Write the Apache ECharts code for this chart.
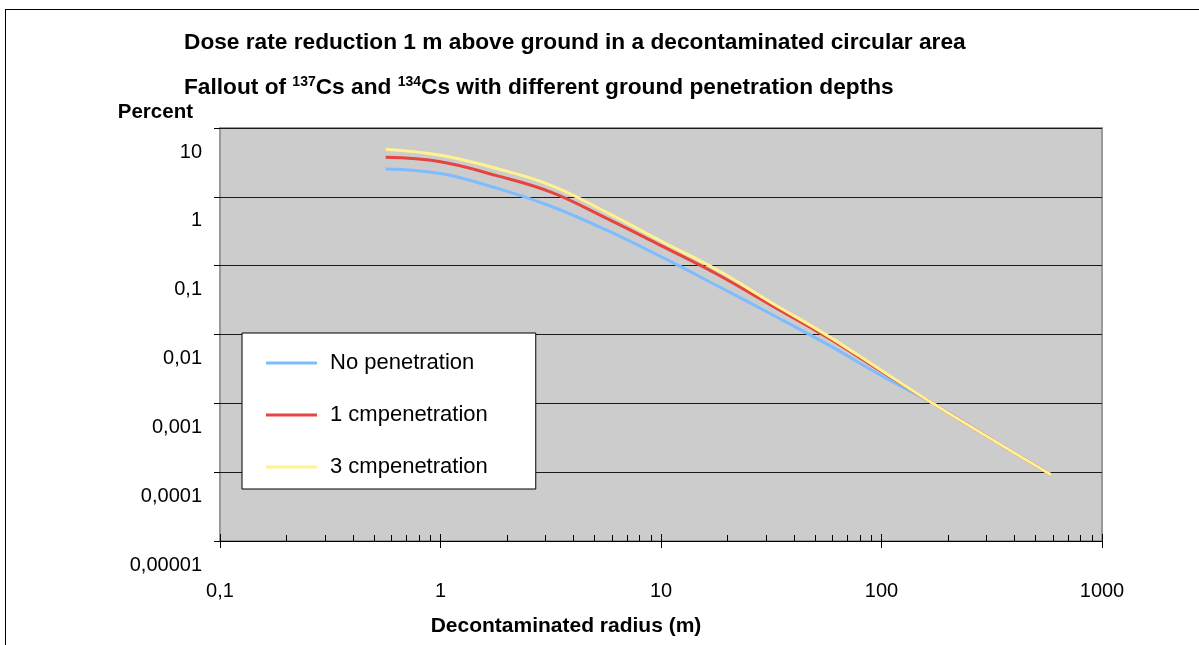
<!DOCTYPE html>
<html>
<head>
<meta charset="utf-8">
<script src="https://cdn.jsdelivr.net/npm/echarts@6/dist/echarts.min.js"></script>
<style>
    html, body { margin: 0; padding: 0; background: #fff; }
    #frame { position: absolute; left: 5px; top: 9px; width: 1300px; height: 800px; border: 1px solid #000; }
    #main { position: absolute; left: 0; top: 0; width: 1199px; height: 645px; }
</style>
</head>
<body>
<div id="frame"></div>
<div id="main"></div>
<script>
// radius of decontaminated circle (m)
var radius = [0.564, 1, 1.78, 3.17, 5.64, 10, 17.8, 31.7, 56.4, 100, 178, 316, 590];
// dose rate reduction (percent)
var noPen  = [2.54, 2.18, 1.35, 0.73, 0.33, 0.135, 0.052, 0.0197, 0.0073, 0.00253, 0.00093, 0.0003, 0.000091];
var pen1cm = [3.75, 3.24, 2.05, 1.17, 0.49, 0.196, 0.0764, 0.0264, 0.0092, 0.0029, 0.00092, 0.0003, 0.000091];
var pen3cm = [4.9, 4.01, 2.6, 1.47, 0.60, 0.228, 0.0886, 0.029, 0.0098, 0.0030, 0.00092, 0.0003, 0.000091];

var seriesNames = ['No penetration', '1 cmpenetration', '3 cmpenetration'];
var xTickLabels = ['0,1', '1', '10', '100', '1000'];
var yTickLabels = ['0,00001', '0,0001', '0,001', '0,01', '0,1', '1', '10'];

// minor ticks 2..9 of every decade on the x axis
var xMinorTicks = [];
[0.1, 1, 10, 100].forEach(function (d) {
    for (var k = 2; k <= 9; k++) xMinorTicks.push(+(d * k).toPrecision(3));
});

function pairs(ys) {
    return radius.map(function (r, i) { return [r, ys[i]]; });
}

var FONT = 'Liberation Sans, Arial, sans-serif';

var chart = echarts.init(document.getElementById('main'));
var option = {
    animation: false,
    textStyle: { fontFamily: FONT },
    title: [
        {
            text: 'Dose rate reduction 1 m above ground in a decontaminated circular area',
            left: 184, top: 30, padding: 0,
            textStyle: { fontSize: 22.7, fontWeight: 'bold', color: '#000', lineHeight: 25, fontFamily: FONT }
        },
        {
            text: '{t|Fallout of }{s|137}{t|Cs and }{s|134}{t|Cs with different ground penetration depths}',
            left: 184, top: 75, padding: 0,
            textStyle: {
                fontFamily: FONT,
                rich: {
                    t: { fontSize: 22.7, fontWeight: 'bold', color: '#000', lineHeight: 25, fontFamily: FONT },
                    s: { fontSize: 14, fontWeight: 'bold', color: '#000', lineHeight: 15, verticalAlign: 'top', fontFamily: FONT }
                }
            }
        }
    ],
    color: ['#7dbdff', '#e6443e', '#fff28f'],
    legend: {
        orient: 'vertical',
        left: 242, top: 333,
        backgroundColor: '#fff',
        borderColor: '#000',
        borderWidth: 1,
        borderRadius: 0,
        padding: [19, 48, 11, 24],
        itemGap: 30,
        itemWidth: 51,
        itemHeight: 3,
        itemTextGap: 5,
        icon: 'rect',
        textStyle: { fontSize: 22, color: '#000', fontFamily: FONT, padding: [0, 0, 0, 8] },
        data: seriesNames
    },
    grid: {
        left: 220, top: 128, width: 882, height: 413,
        show: true,
        backgroundColor: '#cccccc',
        borderColor: '#999',
        borderWidth: 2
    },
    xAxis: [
        {
            type: 'log', logBase: 10, min: 0.1, max: 1000, interval: 1,
            position: 'bottom',
            name: 'Decontaminated radius (m)',
            nameLocation: 'middle', nameGap: 75,
            nameTextStyle: { fontSize: 21, fontWeight: 'bold', color: '#000', padding: [0, 190, 0, 0], fontFamily: FONT },
            axisLine: { show: true, lineStyle: { color: '#000', width: 1 } },
            axisTick: { show: true, inside: false, length: 7, lineStyle: { color: '#000' } },
            axisLabel: {
                margin: 40, fontSize: 20, color: '#000', fontFamily: FONT,
                formatter: function (v) { return xTickLabels[Math.round(Math.log10(v)) + 1]; }
            },
            splitLine: { show: false }
        },
        {
            type: 'log', logBase: 10, min: 0.1, max: 1000,
            position: 'bottom',
            axisLine: { show: false },
            axisTick: { show: true, inside: true, length: 6, customValues: xMinorTicks, lineStyle: { color: '#000' } },
            axisLabel: { show: false },
            splitLine: { show: false }
        },
        {
            type: 'log', logBase: 10, min: 0.1, max: 1000, interval: 1,
            position: 'bottom',
            axisLine: { show: false },
            axisTick: { show: true, inside: true, length: 7, lineStyle: { color: '#000' } },
            axisLabel: { show: false },
            splitLine: { show: false }
        }
    ],
    yAxis: {
        type: 'log', logBase: 10, min: 0.00001, max: 10, interval: 1,
        name: 'Percent',
        nameLocation: 'end', nameGap: 16,
        nameTextStyle: { fontSize: 20.5, fontWeight: 'bold', color: '#000', align: 'right', verticalAlign: 'middle', padding: [0, 27, 0, 0], fontFamily: FONT },
        axisLine: { show: false },
        axisTick: { show: true, inside: false, length: 6, lineStyle: { color: '#000' } },
        axisLabel: {
            margin: 18, fontSize: 20, color: '#000', fontFamily: FONT,
            verticalAlign: 'top', lineHeight: 48,
            formatter: function (v) { return yTickLabels[Math.round(Math.log10(v)) + 5]; }
        },
        splitLine: { show: true, lineStyle: { color: '#1a1a1a', width: 1 } }
    },
    series: [
        { name: seriesNames[0], type: 'line', smooth: 0.4, symbol: 'none', lineStyle: { width: 3 }, data: pairs(noPen), z: 2 },
        { name: seriesNames[1], type: 'line', smooth: 0.4, symbol: 'none', lineStyle: { width: 3 }, data: pairs(pen1cm), z: 3 },
        { name: seriesNames[2], type: 'line', smooth: 0.4, symbol: 'none', lineStyle: { width: 3 }, data: pairs(pen3cm), z: 4 }
    ]
};
chart.setOption(option);
</script>
</body>
</html>
